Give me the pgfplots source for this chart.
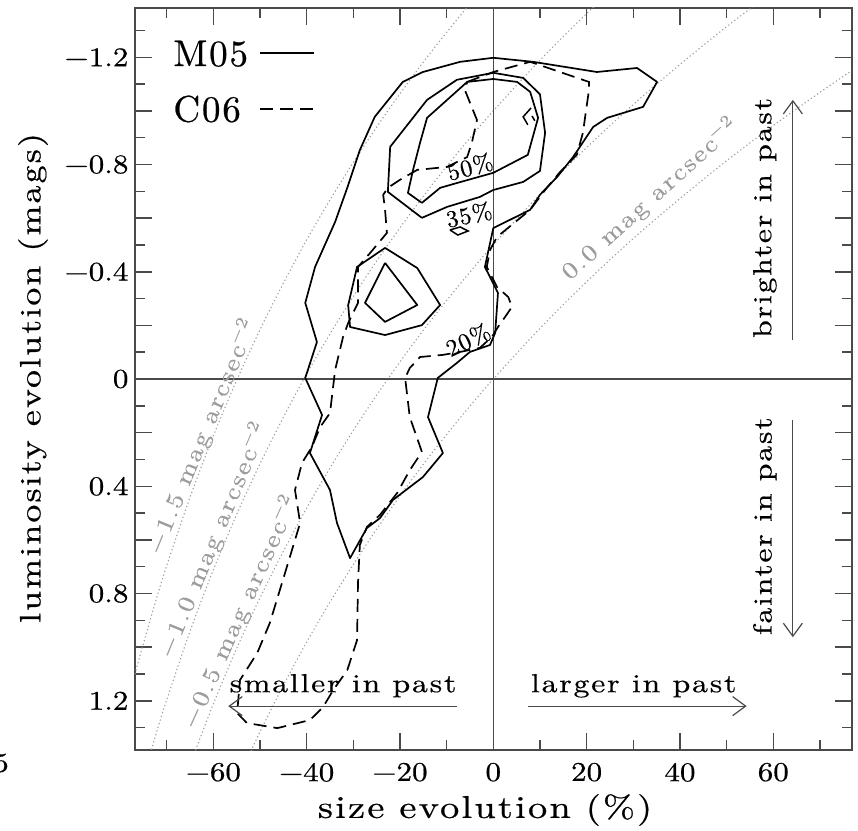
\documentclass[border=0pt]{standalone}
\usepackage{fontspec}
\usepackage{pgfplots}
\usepackage{pgfplotstable}
\pgfplotsset{compat=1.18}
\usetikzlibrary{arrows.meta}
\newfontfamily\wfa{lmroman10-regular.otf}[FakeStretch=1.22, LetterSpace=7, FakeBold=0.6]
\newfontfamily\wft{lmroman10-regular.otf}[FakeStretch=1.15, FakeBold=0.6]
\newfontfamily\wfl{lmroman10-regular.otf}[LetterSpace=5, FakeBold=0.6]
\newfontfamily\wfg{lmroman10-regular.otf}[FakeStretch=1.2, LetterSpace=8, FakeBold=0.4]
\definecolor{frame}{HTML}{4A4A4A}
\definecolor{guide}{HTML}{9C9C9C}
\newcommand\fs[1]{\fontsize{#1}{#1}\selectfont}
\pgfplotstableread{
x m15 m10 m05 p00
-76.8 1.101 1.601 2.101 2.601
-75 0.987 1.487 1.987 2.487
-72 0.808 1.308 1.808 2.308
-70 0.697 1.197 1.697 2.197
-65 0.441 0.941 1.441 1.941
-60 0.212 0.712 1.212 1.712
-55 0.005 0.505 1.005 1.505
-50 -0.184 0.316 0.816 1.316
-45 -0.357 0.143 0.643 1.143
-40 -0.519 -0.019 0.481 0.981
-35 -0.668 -0.168 0.332 0.832
-30 -0.808 -0.308 0.192 0.692
-25 -0.940 -0.440 0.060 0.560
-20 -1.064 -0.564 -0.064 0.436
-15 -1.182 -0.682 -0.182 0.318
-10 -1.293 -0.793 -0.293 0.207
-5 -1.399 -0.899 -0.399 0.101
0 -1.500 -1.000 -0.500 0.000
10 -1.689 -1.189 -0.689 -0.189
20 -1.863 -1.363 -0.863 -0.363
30 -2.024 -1.524 -1.024 -0.524
40 -2.173 -1.673 -1.173 -0.673
50 -2.314 -1.814 -1.314 -0.814
60 -2.445 -1.945 -1.445 -0.945
70 -2.569 -2.069 -1.569 -1.069
76.8 -2.650 -2.150 -1.650 -1.150
}\guides
\begin{document}
\begin{tikzpicture}[x=1pt,y=1pt]
\useasboundingbox (0,0) rectangle (858,830);
\begin{axis}[
  at={(493.3pt,451pt)}, anchor=origin,
  scale only axis, width=716.7pt, height=742.7pt,
  xmin=-76.8, xmax=76.8, ymin=-1.385, ymax=1.385, y dir=reverse,
  axis line style={frame, line width=1.8pt},
  every tick/.style={frame, line width=1.5pt},
  major tick length=17pt, minor tick length=10pt,
  xtick={-60,-40,-20,0,20,40,60},
  xticklabels={−60,−40,−20,0,20,40,60},
  minor xtick={-70,-50,-30,-10,10,30,50,70},
  ytick={-1.2,-1.0,-0.8,-0.6,-0.4,-0.2,0,0.2,0.4,0.6,0.8,1.0,1.2},
  yticklabels={−1.2,,−0.8,,−0.4,,0,,0.4,,0.8,,1.2},
  minor ytick={-1.3,-1.1,-0.9,-0.7,-0.5,-0.3,-0.1,0.1,0.3,0.5,0.7,0.9,1.1,1.3},
  tick label style={font=\wft\fs{27}},
  xticklabel style={yshift=-9pt},
  yticklabel style={xshift=-3pt},
]
% guide curves of constant surface brightness
\addplot[guide, line width=1.1pt, dash pattern=on 1.2pt off 2.6pt, smooth] table[x=x,y=m15]{\guides};
\addplot[guide, line width=1.1pt, dash pattern=on 1.2pt off 2.6pt, smooth] table[x=x,y=m10]{\guides};
\addplot[guide, line width=1.1pt, dash pattern=on 1.2pt off 2.6pt, smooth] table[x=x,y=m05]{\guides};
\addplot[guide, line width=1.1pt, dash pattern=on 1.2pt off 2.6pt, smooth] table[x=x,y=p00]{\guides};
% zero lines
\addplot[frame, line width=1.3pt] coordinates {(0,-1.385) (0,1.385)};
\addplot[frame, line width=1.3pt] coordinates {(-76.8,0) (76.8,0)};
% M05 contours (solid)
\addplot[black, line width=1.7pt, line join=round] coordinates {
(0.0,-1.198) (8.5,-1.183) (22.2,-1.145) (30.8,-1.160) (35.1,-1.108) (32.1,-1.015)
(24.4,-0.974) (21.4,-0.940) (17.1,-0.828) (13.7,-0.754) (10.0,-0.687) (7.9,-0.631)
(0.0,-0.563) (-1.8,-0.418) (1.0,-0.321) (0.4,-0.172) (-0.7,-0.127) (-5.0,-0.101)
(-7.8,-0.060) (-11.9,-0.004) (-14.0,0.142) (-10.8,0.276) (-15.1,0.366) (-17.9,0.403)
(-21.5,0.451) (-24.3,0.519) (-27.1,0.556) (-30.7,0.668) (-33.5,0.537) (-35.0,0.414)
(-39.3,0.276) (-36.7,0.134) (-40.3,-0.004) (-37.8,-0.138) (-40.3,-0.284) (-38.2,-0.418)
(-33.9,-0.586) (-31.3,-0.713) (-28.6,-0.854) (-25.4,-0.978) (-19.4,-1.108) (-15.1,-1.145)
(-7.1,-1.183) (0.0,-1.198)};
\addplot[black, line width=1.7pt, line join=round] coordinates {
(-15.3,-0.601) (-9.9,-0.642) (-2.9,-0.679) (0.0,-0.705) (6.4,-0.735) (10.0,-0.776)
(11.1,-0.918) (10.0,-1.062) (6.4,-1.123) (0.0,-1.142) (-7.8,-1.116) (-14.2,-1.041)
(-22.1,-0.866) (-22.6,-0.698) (-15.3,-0.601)};
\addplot[black, line width=1.7pt, line join=round] coordinates {
(-15.3,-0.657) (-11.4,-0.713) (-7.8,-0.731) (0.0,-0.769) (7.4,-0.836) (9.6,-0.974)
(7.9,-1.071) (5.1,-1.108) (0.0,-1.119) (-5.6,-1.108) (-14.2,-0.974) (-15.7,-0.881)
(-17.2,-0.780) (-18.3,-0.694) (-15.3,-0.657)};
\addplot[black, line width=1.7pt, line join=round] coordinates {
(-23.2,-0.489) (-16.3,-0.414) (-11.4,-0.276) (-15.3,-0.201) (-23.2,-0.164)
(-30.7,-0.194) (-31.1,-0.276) (-29.2,-0.418) (-23.2,-0.489)};
\addplot[black, line width=1.7pt, line join=round] coordinates {
(-23.2,-0.433) (-16.3,-0.276) (-23.2,-0.213) (-27.5,-0.284) (-23.2,-0.433)};
% C06 contours (dashed)
\addplot[black, line width=1.7pt, dash pattern=on 13pt off 7pt] coordinates {
(-5.6,-1.108) (0.0,-1.145) (7.9,-1.183) (20.5,-1.108) (20.5,-1.078) (19.2,-0.918)
(17.9,-0.836) (14.3,-0.772) (11.1,-0.705) (7.9,-0.631) (0.8,-0.530) (-0.7,-0.481)
(-1.4,-0.418) (0.8,-0.343) (3.2,-0.306) (4.0,-0.269) (2.5,-0.231) (1.0,-0.194)
(-0.3,-0.157) (-2.9,-0.116) (-7.1,-0.101) (-10.8,-0.090) (-15.7,-0.082) (-17.9,-0.041)
(-18.9,-0.004) (-17.9,0.142) (-15.3,0.272) (-17.9,0.340) (-20.6,0.425) (-24.3,0.507)
(-27.1,0.552) (-28.6,0.619) (-29.0,0.761) (-29.2,0.974) (-31.3,1.086) (-34.3,1.160)
(-36.5,1.224) (-39.3,1.272) (-46.3,1.302) (-52.8,1.283) (-54.9,1.246) (-54.3,1.123)
(-50.6,1.022) (-47.9,0.910) (-45.1,0.750) (-41.4,0.537) (-42.5,0.414) (-41.0,0.313)
(-38.9,0.254) (-37.1,0.179) (-35.0,0.127) (-33.9,-0.034) (-32.2,-0.157) (-31.1,-0.209)
(-29.0,-0.284) (-29.0,-0.418) (-26.4,-0.470) (-22.8,-0.545) (-23.2,-0.631) (-23.6,-0.687)
(-22.6,-0.713) (-20.0,-0.743) (-16.3,-0.780) (-9.9,-0.791) (-5.6,-0.828) (-4.6,-0.881)
(-3.5,-0.966) (-6.1,-1.078) (-5.6,-1.108)};
\addplot[black, line width=1.5pt] coordinates {(8.1,-1.011) (6.4,-0.978) (7.4,-0.948)};
\addplot[black, line width=1.5pt] coordinates {(8.3,-0.981) (8.9,-0.963)};
\addplot[black, line width=1.5pt] coordinates {(-9.3,-0.556) (-7.1,-0.567) (-5.4,-0.552) (-7.6,-0.537) (-9.3,-0.556)};
% legend
\addplot[black, line width=1.7pt] coordinates {(-50.0,-1.216) (-38.5,-1.216)};
\addplot[black, line width=1.7pt, dash pattern=on 13pt off 7pt] coordinates {(-50.0,-1.007) (-38.5,-1.007)};
\node[font=\wfl\fs{37}, anchor=west, inner sep=0pt] at (axis cs:-68.6,-1.213) {M05};
\node[font=\wfl\fs{37}, anchor=west, inner sep=0pt] at (axis cs:-68.6,-1.007) {C06};
% contour labels
\node[font=\wfl\fs{24}, rotate=15, inner sep=0pt] at (axis cs:-5.0,-0.791) {50\%};
\node[font=\wfl\fs{24}, rotate=12, inner sep=0pt] at (axis cs:-5.2,-0.612) {35\%};
\node[font=\wfl\fs{24}, rotate=25, inner sep=0pt] at (axis cs:-5.4,-0.146) {20\%};
% guide labels
\node[font=\wfg\fs{23.5}, text=guide, rotate=67.5, inner sep=0pt] at (axis cs:-62.5,0.215) {−1.5 mag arcsec\textsuperscript{−2}};
\node[font=\wfg\fs{23.5}, text=guide, rotate=67.5, inner sep=0pt] at (axis cs:-60.1,0.601) {−1.0 mag arcsec\textsuperscript{−2}};
\node[font=\wfg\fs{23.5}, text=guide, rotate=65.8, inner sep=0pt] at (axis cs:-54.3,0.869) {−0.5 mag arcsec\textsuperscript{−2}};
\node[font=\wfg\fs{23.5}, text=guide, rotate=42, inner sep=0pt] at (axis cs:33.5,-0.672) {0.0 mag arcsec\textsuperscript{−2}};
% direction arrows
\draw[frame, line width=1.2pt, -{Straight Barb[length=13pt,width=19pt]}] (axis cs:64.2,-0.146) -- (axis cs:64.2,-1.041);
\draw[frame, line width=1.2pt, -{Straight Barb[length=13pt,width=19pt]}] (axis cs:64.2,0.153) -- (axis cs:64.2,0.963);
\draw[frame, line width=1.2pt, -{Straight Barb[length=13pt,width=19pt]}] (axis cs:-7.8,1.220) -- (axis cs:-56.8,1.220);
\draw[frame, line width=1.2pt, -{Straight Barb[length=13pt,width=19pt]}] (axis cs:7.4,1.220) -- (axis cs:54.3,1.220);
\node[font=\wfa\fs{26}, rotate=90, inner sep=0pt] at (axis cs:58.2,-0.601) {brighter in past};
\node[font=\wfa\fs{26}, rotate=90, inner sep=0pt] at (axis cs:58.2,0.549) {fainter in past};
\node[font=\wfa\fs{26}, anchor=base, inner sep=0pt] at (axis cs:-32.2,1.168) {smaller in past};
\node[font=\wfa\fs{26}, anchor=base, inner sep=0pt] at (axis cs:30.1,1.168) {larger in past};
\end{axis}
\node[font=\wfa\fs{31.5}] at (485,20) {size evolution (\%)};
\node[font=\wfa\fs{29.5}, rotate=90] at (33,452) {luminosity evolution (mags)};
\node[font=\wft\fs{27}] at (1,67) {5};
\end{tikzpicture}
\end{document}
